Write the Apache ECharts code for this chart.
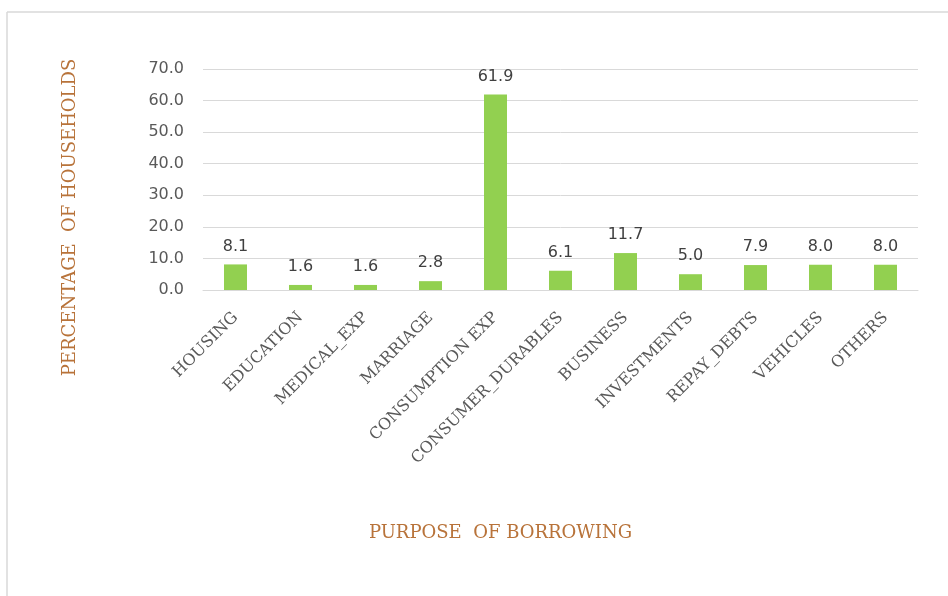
<!DOCTYPE html>
<html>
<head>
<meta charset="utf-8">
<script src="https://cdn.jsdelivr.net/npm/echarts@6/dist/echarts.min.js"></script>
<style>
  html, body { margin: 0; padding: 0; background: #fff; }
  #chart { width: 948px; height: 596px; }
</style>
</head>
<body>
<div id="chart"></div>
<script>
const categories = ['HOUSING', 'EDUCATION', 'MEDICAL_EXP', 'MARRIAGE', 'CONSUMPTION EXP',
  'CONSUMER_DURABLES', 'BUSINESS', 'INVESTMENTS', 'REPAY_DEBTS', 'VEHICLES', 'OTHERS']
const values = [8.1, 1.6, 1.6, 2.8, 61.9, 6.1, 11.7, 5.0, 7.9, 8.0, 8.0]
const yTicks = [0, 10, 20, 30, 40, 50, 60, 70]

const myChart = echarts.init(document.getElementById('chart'))
let option = {
  animation: false,
  grid: {
    top: 69,
    left: 203,
    right: 30,
    bottom: 306
  },
  graphic: [
    { type: 'line', shape: { x1: 7, y1: 12, x2: 948, y2: 12 }, style: { stroke: '#d9d9d9', lineWidth: 1.5 } },
    { type: 'line', shape: { x1: 7, y1: 12, x2: 7, y2: 596 }, style: { stroke: '#d9d9d9', lineWidth: 1.5 } }
  ],
  xAxis: {
    type: 'category',
    data: categories,
    name: 'PURPOSE  OF BORROWING',
    nameLocation: 'middle',
    nameGap: 234,
    nameTextStyle: {
      color: '#b8733a',
      fontFamily: 'DejaVu Serif',
      fontSize: 18,
      padding: [0, 120, 0, 0]
    },
    axisLine: { lineStyle: { color: '#d9d9d9', width: 1 } },
    axisTick: { show: false },
    axisLabel: {
      interval: 0,
      rotate: 45,
      margin: 25,
      color: '#595959',
      fontFamily: 'DejaVu Serif',
      fontSize: 16
    }
  },
  yAxis: {
    type: 'value',
    min: yTicks[0],
    max: yTicks[yTicks.length - 1],
    interval: 10,
    name: 'PERCENTAGE  OF HOUSEHOLDS',
    nameLocation: 'middle',
    nameGap: 124,
    nameTextStyle: {
      color: '#b8733a',
      fontFamily: 'DejaVu Serif',
      fontSize: 18,
      padding: [0, 76, 0, 0]
    },
    axisLine: { show: false },
    axisTick: { show: false },
    splitLine: { lineStyle: { color: '#d9d9d9', width: 1 } },
    axisLabel: {
      margin: 19,
      color: '#595959',
      fontFamily: 'DejaVu Sans',
      fontSize: 16,
      formatter: v => v.toFixed(1)
    }
  },
  series: [
    {
      type: 'bar',
      data: values,
      barWidth: 23,
      itemStyle: { color: '#92d050' },
      label: {
        show: true,
        position: 'top',
        distance: 10,
        color: '#404040',
        fontFamily: 'DejaVu Sans',
        fontSize: 16,
        formatter: p => p.value.toFixed(1)
      }
    }
  ]
}
myChart.setOption(option)
</script>
</body>
</html>
